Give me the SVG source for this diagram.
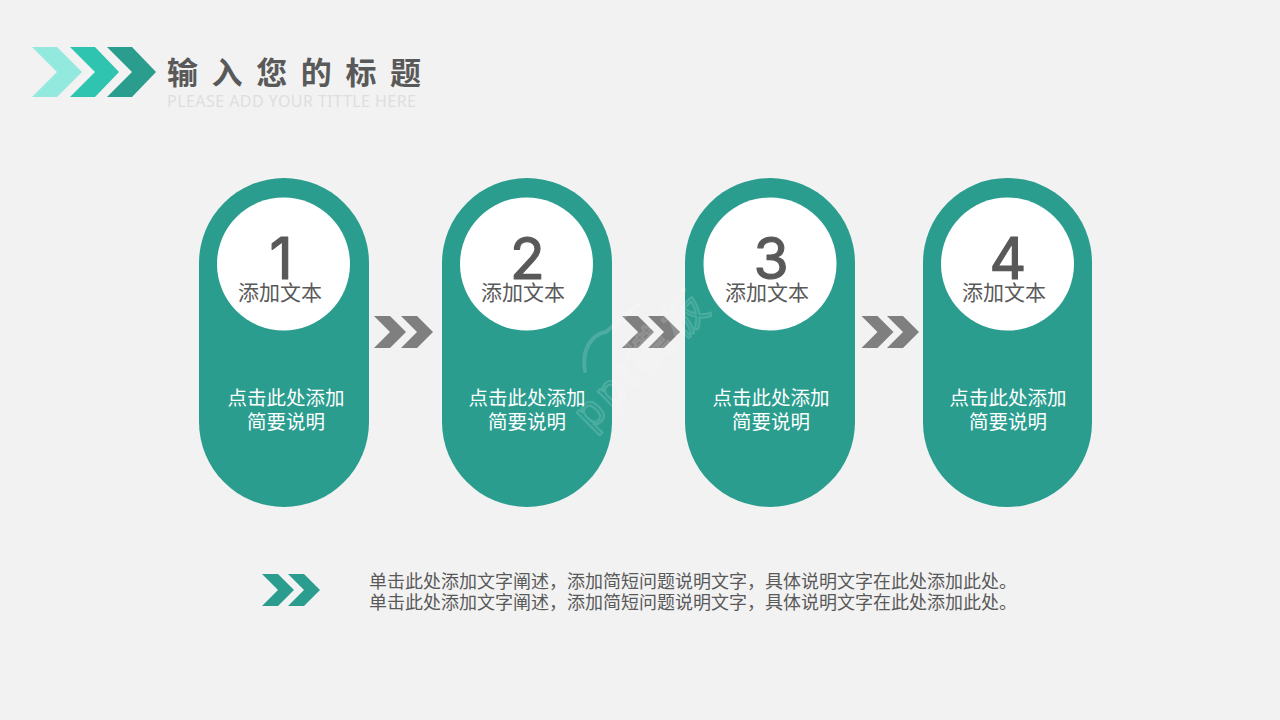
<svg xmlns="http://www.w3.org/2000/svg" width="1280" height="720" viewBox="0 0 1280 720">
<style>
text{font-family:"Noto Sans CJK SC","Noto Sans",sans-serif}
.pill{fill:#2a9d8f}
.hole{fill:#fff}
.num{font-family:Inter,"Noto Sans",sans-serif;font-size:57px;font-weight:400;fill:#595959;text-anchor:middle;stroke:#595959;stroke-width:1.200;stroke-linejoin:round}
.lab{font-size:21px;font-weight:400;fill:#595959;text-anchor:middle}
.desc{font-size:19.500px;fill:#fff;text-anchor:middle}
.note{font-size:18px;font-weight:400;fill:#595959}
.gray{fill:#7f7f7f}
</style>
<defs>
<path id="ch" d="M0 0H16L32 16L16 32H0L16 16Z"/>
</defs>
<rect width="1280" height="720" fill="#f2f2f2"/>
<g id="header">
<path fill="#93e9dd" d="M32 47H57L82 72L57 97H32L57 72Z"/>
<path fill="#2fc4b0" d="M70 47H95L119 72L95 97H70L95 72Z"/>
<path fill="#2a9d8f" d="M107 47H132L156 72L132 97H107L132 72Z"/>
<text x="167" y="84" font-size="31" font-weight="700" fill="#595959" letter-spacing="13.600">输入您的标题</text>
<text x="167" y="107" font-size="16" font-weight="400" fill="#dedede" style="font-family:'Noto Sans',sans-serif" textLength="249">PLEASE ADD YOUR TITTLE HERE</text>
</g>
<g id="node1">
<rect class="pill" x="199" y="178" width="170" height="329" rx="85"/>
<circle class="hole" cx="283.500" cy="264" r="66.500"/>
<text class="num" x="281" y="279">1</text>
<text class="lab" x="280" y="300">添加文本</text>
<text class="desc" x="286" y="405">点击此处添加</text>
<text class="desc" x="286" y="429">简要说明</text>
</g>
<g id="node2">
<rect class="pill" x="442" y="178" width="170" height="329" rx="85"/>
<circle class="hole" cx="526.500" cy="264" r="66.500"/>
<text class="num" x="527.500" y="279">2</text>
<text class="lab" x="523" y="300">添加文本</text>
<text class="desc" x="527" y="405">点击此处添加</text>
<text class="desc" x="527" y="429">简要说明</text>
</g>
<g id="node3">
<rect class="pill" x="685" y="178" width="170" height="329" rx="85"/>
<circle class="hole" cx="770" cy="264" r="66.500"/>
<text class="num" x="771" y="279">3</text>
<text class="lab" x="767" y="300">添加文本</text>
<text class="desc" x="771" y="405">点击此处添加</text>
<text class="desc" x="771" y="429">简要说明</text>
</g>
<g id="node4">
<rect class="pill" x="923" y="178" width="169" height="329" rx="84.500"/>
<circle class="hole" cx="1007.500" cy="264" r="66.500"/>
<text class="num" x="1008" y="279">4</text>
<text class="lab" x="1004" y="300">添加文本</text>
<text class="desc" x="1008" y="405">点击此处添加</text>
<text class="desc" x="1008" y="429">简要说明</text>
</g>
<g id="connectors" class="gray">
<use href="#ch" x="374" y="316"/><use href="#ch" x="401" y="316"/>
<use href="#ch" x="622" y="316"/><use href="#ch" x="648" y="316"/>
<use href="#ch" x="861.500" y="316"/><use href="#ch" x="887" y="316"/>
</g>
<g id="note">
<g fill="#2a9d8f"><use href="#ch" x="262" y="574"/><use href="#ch" x="288" y="574"/></g>
<text class="note" x="369" y="588">单击此处添加文字阐述，添加简短问题说明文字，具体说明文字在此处添加此处。</text>
<text class="note" x="369" y="609">单击此处添加文字阐述，添加简短问题说明文字，具体说明文字在此处添加此处。</text>
</g>
<g id="watermark" fill="none" stroke="#fff" stroke-opacity=".16" stroke-width="4" stroke-linecap="round" stroke-linejoin="round">
<path d="M585 371C581 350 592 334 606 332L640 303"/>
<text transform="translate(591 431) rotate(-45)" font-size="44" stroke-width="2.200" style="font-family:'Liberation Sans','Noto Sans CJK SC',sans-serif" textLength="170">ppt模板</text>
</g>
</svg>
